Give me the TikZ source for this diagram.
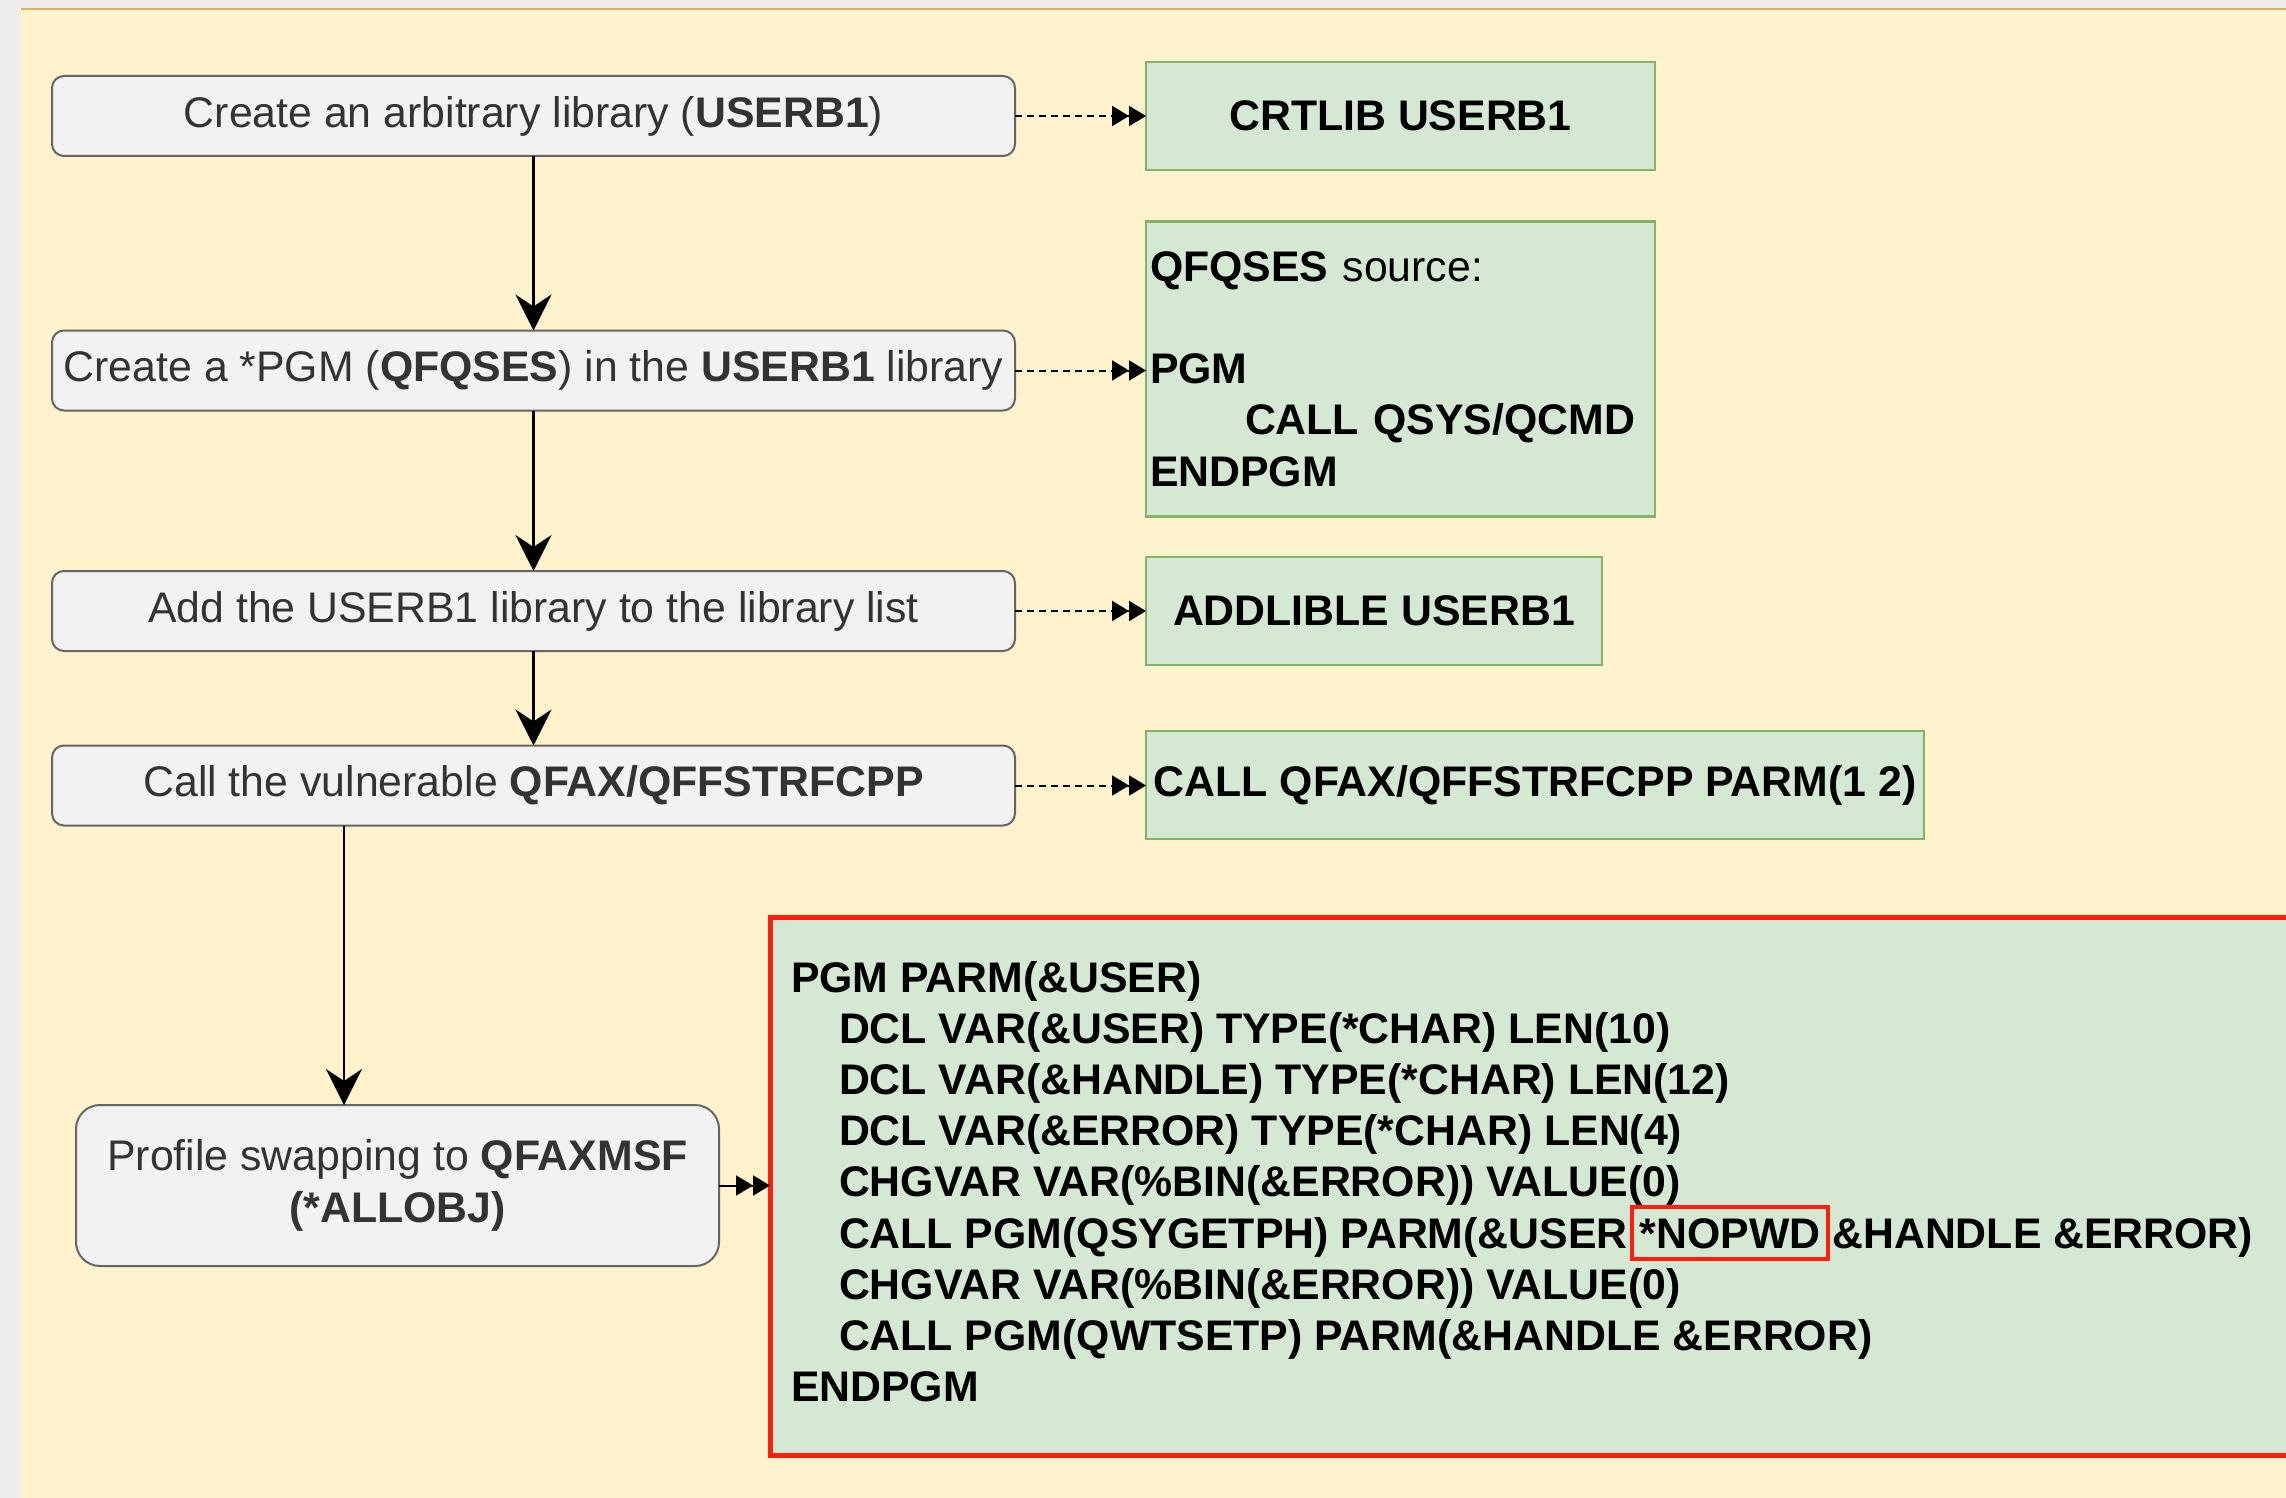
\documentclass[tikz,border=0pt]{standalone}
\usepackage{fontspec}
\setmainfont{Liberation Sans}
\usetikzlibrary{arrows.meta}
\definecolor{bggray}{HTML}{EEEEEE}
\definecolor{beige}{HTML}{FFF2CC}
\definecolor{gold}{HTML}{D6B656}
\definecolor{boxfill}{HTML}{F2F2F2}
\definecolor{boxdraw}{HTML}{666666}
\definecolor{txtgray}{HTML}{333333}
\definecolor{greenfill}{HTML}{D5E8D4}
\definecolor{greendraw}{HTML}{82B366}
\definecolor{redc}{HTML}{FF1F0F}
\begin{document}
\begin{tikzpicture}[x=1pt,y=-1pt,
  every node/.style={font=\fontsize{42.8}{51.2}\selectfont},
  graybox/.style={draw=boxdraw, fill=boxfill, line width=2pt, rounded corners=12pt, text=txtgray,
    inner sep=0pt, outer sep=0pt, minimum width=963pt, minimum height=80pt, align=center},
  greenbox/.style={draw=greendraw, fill=greenfill, line width=2.5pt, inner sep=0pt, outer sep=0pt,
    font=\fontsize{42.8}{51.2}\selectfont\bfseries},
  flow/.style={line width=2.2pt, -{Stealth[length=36pt,width=36pt,inset=12pt]}},
  dbl/.style={line width=2pt, -{Triangle[length=17pt,width=20pt,sep=0pt]Triangle[length=17pt,width=20pt]}},
  dbldash/.style={dbl, dash pattern=on 7pt off 5pt},
  codeline/.style={anchor=base west, inner sep=0pt, outer sep=0pt, font=\fontsize{42.8}{51.2}\selectfont\bfseries},
  nopwdbox/.style={draw=redc, line width=4pt, anchor=base west, inner xsep=8pt, inner ysep=0pt, outer sep=0pt,
    minimum height=52pt, font=\fontsize{42.8}{51.2}\selectfont\bfseries}
]
\useasboundingbox (0,0) rectangle (2286,1498);
\clip (0,0) rectangle (2286,1498);
% background
\fill[bggray] (0,0) rectangle (2286,1498);
\fill[beige] (21,9) rectangle (2300,1510);
\draw[gold, line width=2pt] (21,9) -- (2300,9);

% left column
\node[graybox] (b1) at (533.5,116) {Create an arbitrary library (\textbf{USERB1})};
\node[graybox] (b2) at (533.5,370.5) {Create a *PGM (\textbf{QFQSES}) in the \textbf{USERB1} library};
\node[graybox] (b3) at (533.5,611) {Add the USERB1 library to the library list};
\node[graybox] (b4) at (533.5,785.5) {Call the vulnerable \textbf{QFAX/QFFSTRFCPP}};
\node[graybox, minimum width=643pt, minimum height=161pt, rounded corners=24pt] (b5) at (397.5,1185.5)
  {Profile swapping to \textbf{QFAXMSF}\\\textbf{(*ALLOBJ)}};

% green boxes
\node[greenbox, minimum width=509pt, minimum height=108pt] (g1) at (1400.5,116) {CRTLIB USERB1};
\node[greenbox, minimum width=509pt, minimum height=295pt, text width=501pt, inner xsep=4pt, align=left,
  font=\fontsize{42.8}{51.2}\selectfont] (g2) at (1400.5,369)
  {\textbf{QFQSES} source:\\[51.2pt]\textbf{PGM}\\\hspace*{95pt}\textbf{CALL QSYS/QCMD}\\\textbf{ENDPGM}};
\node[greenbox, minimum width=456pt, minimum height=108pt] (g3) at (1374,611) {ADDLIBLE USERB1};
\node[greenbox, minimum width=778pt, minimum height=108pt] (g4) at (1535,785) {CALL QFAX/QFFSTRFCPP PARM(1 2)};

% code box
\node[draw=redc, fill=greenfill, line width=5pt, inner sep=0pt, outer sep=0pt,
  minimum width=1560pt, minimum height=538pt, anchor=north west] (code) at (770,917) {};
\node[codeline] (l1) at (791,992) {PGM PARM(\&USER)};
\node[codeline] (l2) at (839,1043.2) {DCL VAR(\&USER) TYPE(*CHAR) LEN(10)};
\node[codeline] (l3) at (839,1094.4) {DCL VAR(\&HANDLE) TYPE(*CHAR) LEN(12)};
\node[codeline] (l4) at (839,1145.6) {DCL VAR(\&ERROR) TYPE(*CHAR) LEN(4)};
\node[codeline] (l5) at (839,1196.8) {CHGVAR VAR(\%BIN(\&ERROR)) VALUE(0)};
\node[codeline] (l6a) at (839,1248) {CALL PGM(QSYGETPH) PARM(\&USER};
\node[nopwdbox] (nopwd) at ([xshift=4pt]l6a.base east) {*NOPWD};
\node[codeline] (l6c) at ([xshift=4pt]nopwd.base east) {\&HANDLE \&ERROR)};
\node[codeline] (l7) at (839,1299.2) {CHGVAR VAR(\%BIN(\&ERROR)) VALUE(0)};
\node[codeline] (l8) at (839,1350.4) {CALL PGM(QWTSETP) PARM(\&HANDLE \&ERROR)};
\node[codeline] (l9) at (791,1401.6) {ENDPGM};

% connectors
\coordinate (c45) at (344,0);
\draw[flow] (b1) -- (b2);
\draw[flow] (b2) -- (b3);
\draw[flow] (b3) -- (b4);
\draw[flow] (b4.south -| c45) -- (b5.north -| c45);
\draw[dbldash] (b1.east) -- (b1.east -| g1.west);
\draw[dbldash] (b2.east) -- (b2.east -| g2.west);
\draw[dbldash] (b3.east) -- (b3.east -| g3.west);
\draw[dbldash] (b4.east) -- (b4.east -| g4.west);
\draw[dbl] (b5.east) -- (b5.east -| code.west);
\end{tikzpicture}
\end{document}
